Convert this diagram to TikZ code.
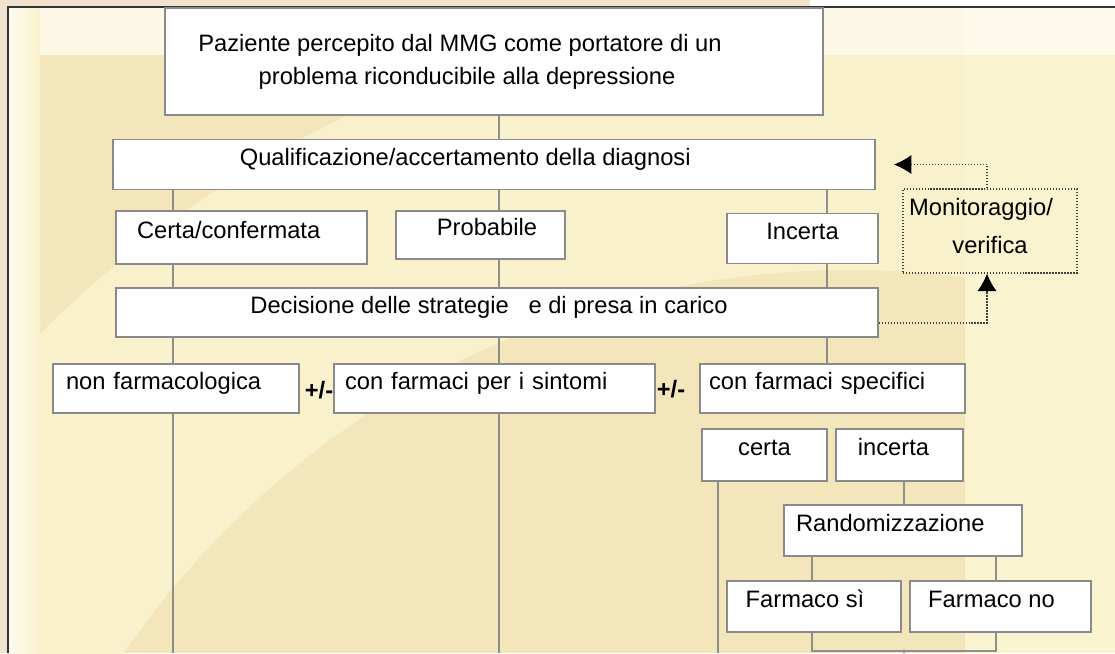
\documentclass[tikz,border=0pt]{standalone}
\usepackage{fontspec}
\setmainfont{Liberation Sans}
\usepackage{xcolor}
\usetikzlibrary{arrows.meta}

\definecolor{boxgray}{HTML}{8A8A8A}
\definecolor{linegray}{HTML}{8E8E8E}
\definecolor{bgdark}{HTML}{F3E6BA}
\definecolor{bglight}{HTML}{F9F1CC}
\definecolor{bgright}{HTML}{FAF3D0}
\definecolor{edgestrip}{HTML}{F0E4CE}

\tikzset{
  box/.style={draw=boxgray, line width=1.1pt, fill=white, inner ysep=0pt,
    minimum height=1cm, text height=9pt, text depth=8pt,
    font=\fontsize{13.5}{16}\selectfont},
  lbox/.style={box, align=left},
  link/.style={draw=linegray, line width=0.9pt},
  back/.style={draw=black!75, densely dotted, line width=0.7pt,
    -{Latex[length=10pt,width=11pt,color=black]}},
  pm/.style={font=\fontsize{13.5}{16}\selectfont\bfseries, inner sep=0pt}
}

\begin{document}
\begin{tikzpicture}[x=0.02cm,y=-0.02cm]
\useasboundingbox (0,0) rectangle (1115,653);

% sfondo
\fill[edgestrip] (0,0) rectangle (810,7);
\fill[edgestrip] (0,0) rectangle (8,653);
\fill[bgdark] (8,7) rectangle (1115,653);
\begin{scope}
\clip (8,7) rectangle (965,653);
\fill[bglight, even odd rule] (850,1150) circle (1150) (850,1150) circle (880);
\fill[white!50!bglight] (8,7) rectangle (965,55);
\shade[left color=white!70!bglight, right color=bglight] (8,7) rectangle (40,653);
\end{scope}
\fill[bgright] (965,7) rectangle (1115,653);
\fill[white!60!bgright] (965,7) rectangle (1115,55);
\draw[black!80, line width=1.1pt] (8,653) -- (8,7) -- (1115,7);

% colonne dei collegamenti
\coordinate (colA) at (173,0);
\coordinate (colB) at (499,0);
\coordinate (colC) at (827,0);
\coordinate (colR) at (718,0);
\coordinate (colS) at (904,0);
\coordinate (colT) at (812,0);
\coordinate (colU) at (996,0);
\coordinate (join) at (0,651);
\coordinate (bot) at (0,653);

\node (paz) at (494,61.5) [box, align=center, text height=, text depth=,
  minimum width=13.16cm, minimum height=2.14cm,
  font=\fontsize{13.5}{18.8}\selectfont] {
Paziente percepito dal MMG come portatore di un\hspace*{1.36cm} \\
problema riconducibile alla depressione\hspace*{1.08cm}
};
\node (qual) at (494,164.5) [box, minimum width=15.24cm]
  {Qualificazione/accertamento della diagnosi\hspace*{1.15cm}};

\node (certa) at (241.5,237.5) [lbox, text width=4.18cm, inner xsep=0.42cm,
  minimum height=1.06cm] {Certa/confermata};
\node (prob) at (480.5,235) [box, minimum width=3.38cm, minimum height=0.96cm]
  {\hspace*{0.26cm}Probabile};
\node (inc) at (802.5,238.5) [box, minimum width=3.02cm] {Incerta};
\node (mon) at (990,231) [draw=black!75, densely dotted, line width=0.7pt,
  align=center, minimum width=3.48cm, minimum height=1.68cm,
  font=\fontsize{13.5}{22}\selectfont]
  {Monitoraggio/\hspace*{0.36cm} \\ verifica\hspace*{0.2cm}\\[-16pt]\mbox{}};

\node (dec) at (497,312.5) [box, minimum width=15.24cm, minimum height=0.98cm]
  {Decisione delle strategie \ \ e di presa in carico\hspace*{0.32cm}};

\node (nonfarm) at (176,388.5) [lbox, text width=4.4cm, inner xsep=0.26cm,
  minimum height=0.98cm] {non farmacologica};
\node (pmA) at (319,390) [pm] {+/-};
\node (sint) at (494.5,388.5) [lbox, text width=5.98cm, inner xsep=0.22cm,
  minimum height=0.98cm] {con farmaci per i sintomi};
\node (pmB) at (671,389) [pm] {+/-};
\node (spec) at (832.5,388.5) [lbox, text width=4.94cm, inner xsep=0.18cm,
  minimum height=0.98cm] {con farmaci specifici};

\node (cer) at (764.5,455) [box, minimum width=2.5cm, minimum height=1.04cm] {certa};
\node (incer) at (899.5,455) [box, minimum width=2.54cm, minimum height=1.04cm]
  {incerta\hspace*{0.24cm}};
\node (rand) at (903,530.5) [lbox, text width=4.28cm, inner xsep=0.24cm,
  minimum height=1.02cm] {Randomizzazione};
\node (fsi) at (814,606.5) [box, minimum width=3.48cm, minimum height=1.02cm]
  {Farmaco sì\hspace*{0.36cm}};
\node (fno) at (1000.5,606.5) [box, minimum width=3.62cm, minimum height=1.02cm]
  {Farmaco no\hspace*{0.36cm}};

% collegamenti
\draw[link] (paz.south -| colB) -- (qual.north -| colB);
\draw[link] (qual.south -| colA) -- (certa.north -| colA);
\draw[link] (qual.south -| colB) -- (prob.north -| colB);
\draw[link] (qual.south -| colC) -- (inc.north -| colC);
\draw[link] (certa.south -| colA) -- (dec.north -| colA);
\draw[link] (prob.south -| colB) -- (dec.north -| colB);
\draw[link] (inc.south -| colC) -- (dec.north -| colC);
\draw[link] (dec.south -| colA) -- (nonfarm.north -| colA);
\draw[link] (dec.south -| colB) -- (sint.north -| colB);
\draw[link] (dec.south -| colC) -- (spec.north -| colC);
\draw[link] (nonfarm.south -| colA) -- (colA |- bot);
\draw[link] (sint.south -| colB) -- (colB |- bot);
\draw[link] (cer.south -| colR) -- (colR |- bot);
\draw[link] (incer.south -| colS) -- (rand.north -| colS);
\draw[link] (rand.south -| colT) -- (fsi.north -| colT);
\draw[link] (rand.south -| colU) -- (fno.north -| colU);
\draw[link] (fsi.south -| colT) -- (colT |- join) -- (colU |- join) -- (fno.south -| colU);
\draw[link] (colS |- join) -- (colS |- bot);

% monitoraggio
\draw[back] ([yshift=-0.21cm]dec.east) -| ([xshift=-0.06cm]mon.south);
\draw[back] ([xshift=-0.06cm]mon.north) |- ([xshift=0.36cm]qual.east);
\end{tikzpicture}
\end{document}
